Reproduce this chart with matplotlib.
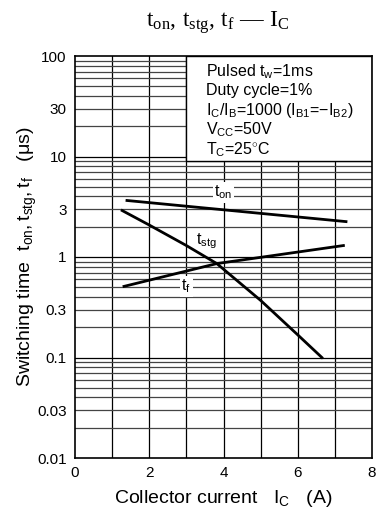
import matplotlib
matplotlib.use("Agg")
import matplotlib.pyplot as plt
import numpy as np
from matplotlib.patches import Rectangle

# data
ton_x = [1.4, 7.3]
ton_y = [3.65, 2.25]
tstg_x = [1.27, 2.0, 3.0, 3.82, 5.0, 6.0, 6.65]
tstg_y = [2.9, 2.08, 1.3, 0.86, 0.37, 0.168, 0.10]
tf_x = [1.32, 3.82, 7.23]
tf_y = [0.51, 0.86, 1.30]

xticks = [0, 2, 4, 6, 8]
yticks = [0.01, 0.03, 0.1, 0.3, 1, 3, 10, 30, 100]
ytick_labels = ["0.01", "0.03", "0.1", "0.3", "1", "3", "10", "30", "100"]

plt.rcParams['font.family'] = ['Liberation Sans', 'DejaVu Sans']
plt.rcParams['mathtext.fontset'] = 'custom'
plt.rcParams['mathtext.rm'] = 'Liberation Sans'
plt.rcParams['mathtext.it'] = 'Liberation Sans'

fig = plt.figure(figsize=(3.86, 5.21), dpi=100)
ax = fig.add_axes([75/386, 1-458/521, (372-75)/386, (458-56)/521])
ax.set_xlim(0, 8)
ax.set_yscale('log')
ax.set_ylim(0.01, 100)

# grid
for xv in range(1, 8):
    ax.axvline(xv, color='black', lw=0.9, zorder=1)
for dec in [0.01, 0.1, 1, 10]:
    for m in range(2, 10):
        ax.axhline(dec*m, color='#444444', lw=0.9, zorder=1)
    if dec > 0.01:
        ax.axhline(dec, color='black', lw=0.9, zorder=1)

# legend box
ax.add_patch(Rectangle((3, 9), 5, 91, facecolor='white', edgecolor='black', lw=1.0, zorder=2))

ax.plot(ton_x, ton_y, color='black', lw=2, zorder=4)
ax.plot(tstg_x, tstg_y, color='black', lw=2, zorder=4)
ax.plot(tf_x, tf_y, color='black', lw=2, zorder=4)

bb = dict(facecolor='white', edgecolor='none', pad=1)
ax.text(4.0, 4.4, r'$\mathregular{t_{on}}$', fontsize=11.5, ha='center', va='center', bbox=bb, zorder=3)
ax.text(3.55, 1.45, r'$\mathregular{t_{stg}}$', fontsize=11.5, ha='center', va='center', bbox=bb, zorder=3)
ax.text(3.0, 0.51, r'$\mathregular{t_{f}}$', fontsize=11.5, ha='center', va='center', bbox=bb, zorder=3)

lines = [r'Pulsed $\mathregular{t_{w}}$=1ms',
         'Duty cycle=1%',
         r'$\mathregular{I_C/I_B}$=1000 ($\mathregular{I_{B1}}$=$-$$\mathregular{I_{B2}}$)',
         r'$\mathregular{V_{CC}}$=50V',
         r'$\mathregular{T_C}$=25$^{\circ}$C']
for i, s in enumerate(lines):
    fig.text(206/386, 1-(76+i*19.5)/521, s, fontsize=11.5, ha='left', va='baseline', zorder=5)

ax.set_xticks(xticks)
ax.set_xticklabels([str(v) for v in xticks])
ax.set_yticks(yticks)
ax.set_yticklabels(ytick_labels)
ax.yaxis.set_minor_locator(matplotlib.ticker.NullLocator())
ax.tick_params(length=0, labelsize=11, pad=6)
for s in ax.spines.values():
    s.set_linewidth(1.2)

fig.text(223/386, 1-503/521, r'Collector current   $\mathregular{I_C}$   (A)', fontsize=14, ha='center', va='baseline')
fig.text(27/386, 1-257/521, r'Switching time  $\mathregular{t_{on},t_{stg},t_f}$   ($\mathregular{\mu}$s)',
         fontsize=14, ha='center', va='center', rotation=90)

fig.text(218/386, 1-27/521, r'$\mathregular{t_{on},\,t_{stg},\,t_f}$ — $\mathregular{I_C}$', fontsize=17,
         ha='center', va='baseline', family=['Liberation Serif'], math_fontfamily='stix')

fig.savefig('out.png', dpi=100)
